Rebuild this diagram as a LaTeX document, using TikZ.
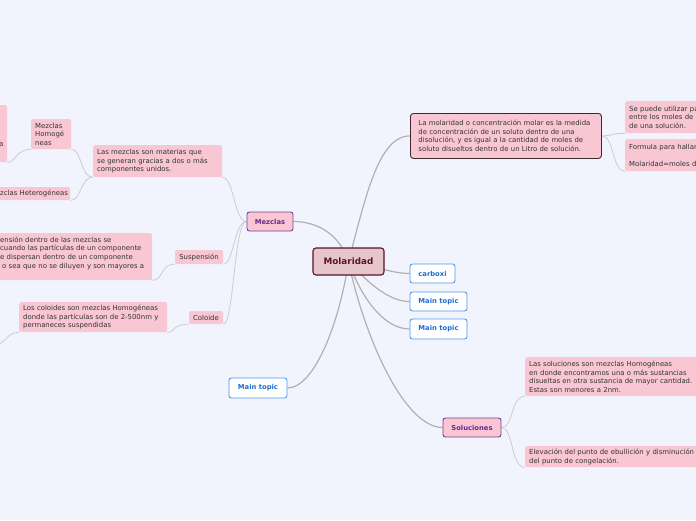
\documentclass[tikz,border=0pt]{standalone}
\usepackage{fontspec}
\setmainfont{DejaVu Sans}
\definecolor{bg}{HTML}{F2F4FD}
\definecolor{pinkf}{HTML}{F9C7D3}
\definecolor{rootf}{HTML}{E6C5CB}
\definecolor{rootd}{HTML}{5A1325}
\definecolor{purp}{HTML}{7A3A9A}
\definecolor{purpt}{HTML}{6A2A8A}
\definecolor{blueb}{HTML}{4C9BEA}
\definecolor{bluet}{HTML}{1E6FD2}
\definecolor{txtc}{HTML}{333333}
\definecolor{darkb}{HTML}{3A2A2E}
\definecolor{linec}{HTML}{B0B0B4}
\definecolor{sublinec}{HTML}{CBCBD2}
\newcommand\rowtxt[1]{\mbox{#1}}
\pgfdeclarelayer{bgfill}
\pgfdeclarelayer{conn}
\pgfsetlayers{bgfill,conn,main}
\begin{document}
\begin{tikzpicture}[x=1pt,y=-1pt,
 txtfont/.style={font=\fontsize{6.9}{8.6}\selectfont},
 txtbox/.style={txtfont, fill=pinkf, rounded corners=2pt, text=txtc, align=left, inner xsep=4pt, inner ysep=0pt, anchor=north west},
 tagbox/.style={txtfont, fill=pinkf, rounded corners=2pt, text=txtc, inner sep=0pt},
 rootbox/.style={fill=rootf, draw=rootd, line width=1.1pt, rounded corners=3pt, text=rootd, font=\fontsize{8.8}{10}\selectfont\bfseries, inner sep=0pt},
 topicbox/.style={fill=pinkf, draw=purp, line width=0.9pt, rounded corners=2.5pt, text=purpt, font=\fontsize{6.8}{8}\selectfont\bfseries, inner sep=0pt},
 mainbox/.style={fill=white, draw=blueb, line width=0.9pt, rounded corners=2.5pt, text=bluet, font=\fontsize{6.8}{8}\selectfont\bfseries, inner sep=0pt},
 detailbox/.style={txtfont, fill=pinkf, draw=darkb, line width=0.9pt, rounded corners=3pt, text=txtc, align=left, inner xsep=8pt, inner ysep=0pt, anchor=north west},
 mainline/.style={draw=linec, line width=1.2pt},
 subline/.style={draw=sublinec, line width=0.8pt}]
\useasboundingbox (0,0) rectangle (696,520);
\begin{pgfonlayer}{bgfill}
\fill[bg] (0,0) rectangle (696,520);
\end{pgfonlayer}

% central and main topics
\node[rootbox, minimum width=71pt, minimum height=27pt] (root) at (348.5,261.5) {Molaridad};
\node[topicbox, minimum width=46pt, minimum height=19pt] (mez) at (270,221.5) {Mezclas};
\node[topicbox, minimum width=58pt, minimum height=19pt] (sol) at (472,427.5) {Soluciones};
\node[mainbox, minimum width=45pt, minimum height=19pt] (carb) at (432.5,273.5) {carboxi};
\node[mainbox, minimum width=57pt, minimum height=19pt] (mt1) at (438.5,301.5) {Main topic};
\node[mainbox, minimum width=57pt, minimum height=20pt] (mt2) at (438.5,329) {Main topic};
\node[mainbox, minimum width=58pt, minimum height=20pt] (mt3) at (258,388) {Main topic};

% definition box
\node[detailbox, text width=175pt, minimum height=45pt] (mol) at (410,113)
 {\rowtxt{La molaridad o concentración molar es la medida}\\
  \rowtxt{de concentración de un soluto dentro de una}\\
  \rowtxt{disolución, y es igual a la cantidad de moles de}\\
  \rowtxt{soluto disueltos dentro de un Litro de solución.}};
\node[txtbox, text width=92pt, minimum height=32pt] (sp) at (625,101)
 {\rowtxt{Se puede utilizar pa}\\\rowtxt{entre los moles de}\\\rowtxt{de una solución.}};
\node[txtbox, text width=92pt, minimum height=32pt] (fm) at (625,139)
 {\rowtxt{Formula para hallar}\\\mbox{}\\\rowtxt{Molaridad=moles d}};

% Mezclas branch
\node[txtbox, text width=121pt, minimum height=32pt] (lm) at (93,145)
 {\rowtxt{Las mezclas son materias que}\\\rowtxt{se generan gracias a dos o más}\\\rowtxt{componentes unidos.}};
\node[txtbox, text width=32pt, minimum height=30pt] (mh) at (31,119)
 {\rowtxt{Mezclas}\\\rowtxt{Homogé}\\\rowtxt{neas}};
\node[txtbox, text width=66pt, minimum height=13pt] (het) at (-4,187)
 {\rowtxt{zclas Heterogéneas}};
\node[txtbox, text width=4pt, minimum height=57pt] (cut) at (-5,105)
 {\mbox{}\\\mbox{}\\\mbox{}\\\rowtxt{a}};
\node[tagbox, minimum width=48pt, minimum height=14pt] (susp) at (199,257) {Suspensión};
\node[txtbox, inner xsep=6pt, text width=146pt, minimum height=47pt] (st) at (-6,233)
 {\rowtxt{ensión dentro de las mezclas se}\\
  \rowtxt{cuando las partículas de un componente}\\
  \rowtxt{e dispersan dentro de un componente}\\
  \rowtxt{\hspace{2pt}o sea que no se diluyen y son mayores a}\\\mbox{}};
\node[tagbox, minimum width=34pt, minimum height=13pt] (col) at (206,317.5) {Coloide};
\node[txtbox, text width=140pt, minimum height=30pt] (ct) at (19,302)
 {\rowtxt{Los coloides son mezclas Homogéneas}\\
  \rowtxt{donde las partículas son de 2-500nm y}\\
  \rowtxt{permaneces suspendidas}};

% Soluciones branch
\node[txtbox, text width=172pt, minimum height=39pt] (ls) at (525,357)
 {\rowtxt{Las soluciones son mezclas Homogéneas}\\
  \rowtxt{en donde encontramos una o más sustancias}\\
  \rowtxt{disueltas en otra sustancia de mayor cantidad.}\\
  \rowtxt{Estas son menores a 2nm.}};
\node[txtbox, text width=172pt, minimum height=21pt] (el) at (525,446)
 {\rowtxt{Elevación del punto de ebullición y disminución}\\
  \rowtxt{del punto de congelación.}};

\begin{pgfonlayer}{conn}
\path[mainline] (root.center) .. controls (340,235) and (318,221.5) .. (mez.east);
\path[mainline] (root.center) .. controls (365,200) and (378,135.5) .. (mol.west);
\path[mainline] (root.center) .. controls (380,268) and (395,273.5) .. (carb.west);
\path[mainline] (root.center) .. controls (370,285) and (390,301.5) .. (mt1.west);
\path[mainline] (root.center) .. controls (362,300) and (385,329) .. (mt2.west);
\path[mainline] (root.center) .. controls (340,320) and (315,388) .. (mt3.east);
\path[mainline] (root.center) .. controls (365,340) and (405,427.5) .. (sol.west);

\path[subline] (mez.west) .. controls (234,221.5) and (234,177) .. (lm.south east);
\path[subline] (mez.west) .. controls (234,221.5) and (234,264) .. (susp.south east);
\path[subline] (mez.west) .. controls (234,221.5) and (234,324) .. (col.south east);
\path[subline] (lm.south west) .. controls (80,177) and (82,149) .. (mh.south east);
\path[subline] (lm.south west) .. controls (80,177) and (82,200) .. (het.south east);
\path[subline] (mh.south west) .. controls (16,149) and (16,162) .. (cut.south east);
\path[subline] (susp.south west) .. controls (160,264) and (164,280) .. (st.south east);
\path[subline] (col.south west) .. controls (172,324) and (176,332) .. (ct.south east);
\coordinate (ctend) at (-4,346);
\path[subline] (ct.south west) .. controls (8,332) and (6,342) .. (ctend);
\path[subline] (mol.east) .. controls (614,135.5) and (612,133) .. (sp.south west);
\path[subline] (mol.east) .. controls (614,135.5) and (612,171) .. (fm.south west);
\path[subline] (sol.east) .. controls (514,427.5) and (510,396) .. (ls.south west);
\path[subline] (sol.east) .. controls (514,427.5) and (510,467) .. (el.south west);
\end{pgfonlayer}
\end{tikzpicture}
\end{document}
